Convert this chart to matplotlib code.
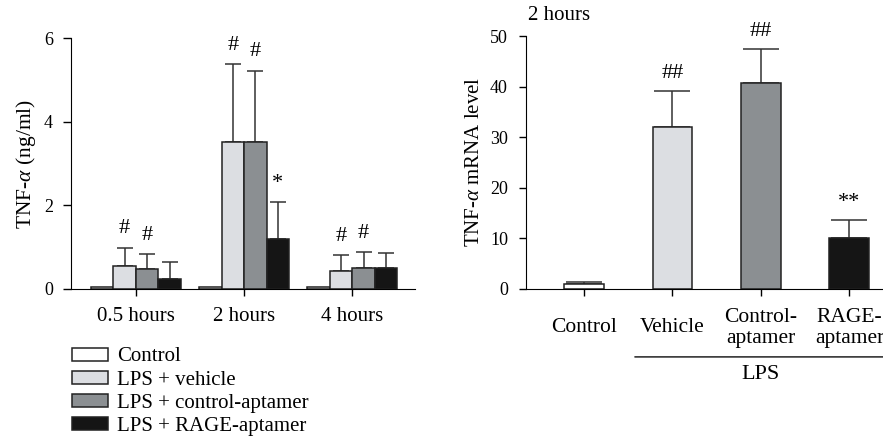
import numpy as np
import matplotlib.pyplot as plt
from matplotlib.patches import Patch

plt.rcParams['font.family'] = ['Liberation Serif', 'DejaVu Serif']
plt.rcParams['mathtext.fontset'] = 'custom'
plt.rcParams['mathtext.it'] = 'Liberation Serif:italic'
plt.rcParams['mathtext.rm'] = 'Liberation Serif'

# === DATA ===
timepoints = ["0.5 hours", "2 hours", "4 hours"]
groups = ["Control", "LPS + vehicle", "LPS + control-aptamer", "LPS + RAGE-aptamer"]
colors = ["#ffffff", "#dcdee2", "#8b8f92", "#151515"]

# TNF-alpha protein (ng/ml), rows = groups, cols = timepoints
tnf_mean = [
    [0.05, 0.05, 0.05],
    [0.56, 3.51, 0.43],
    [0.47, 3.52, 0.49],
    [0.23, 1.20, 0.49],
]
tnf_err = [
    [0.00, 0.00, 0.00],
    [0.43, 1.87, 0.38],
    [0.37, 1.70, 0.40],
    [0.42, 0.88, 0.36],
]
tnf_marks = [
    ["", "", ""],
    ["#", "#", "#"],
    ["#", "#", "#"],
    ["", "*", ""],
]

# TNF-alpha mRNA at 2 hours
mrna_labels = ["Control", "Vehicle", "Control-\naptamer", "RAGE-\naptamer"]
mrna_mean = [1.0, 31.9, 40.7, 10.0]
mrna_err = [0.3, 7.3, 6.7, 3.5]
mrna_marks = ["", "##", "##", "**"]

edge = "#222222"
ecol = "#333333"

fig = plt.figure(figsize=(8.83, 4.37), dpi=100)

# ---- left panel ----
ax1 = fig.add_axes([0.0804, 0.3387, 0.3896, 0.5743])
w = 0.208
x = np.arange(len(timepoints))
for i, g in enumerate(groups):
    xs = x + (i - 1.5) * w
    ax1.bar(xs, tnf_mean[i], width=w, color=colors[i], edgecolor=edge, linewidth=1.1, zorder=2)
    errs = np.array(tnf_err[i])
    show = errs > 0
    ax1.errorbar(xs[show], np.array(tnf_mean[i])[show],
                 yerr=[np.zeros(show.sum()), errs[show]],
                 fmt='none', ecolor=ecol, elinewidth=1.1, capsize=6, capthick=1.1, zorder=1)
    for j in range(len(timepoints)):
        if tnf_marks[i][j]:
            top = tnf_mean[i][j] + tnf_err[i][j]
            ax1.text(xs[j], top + 0.22, tnf_marks[i][j], ha='center', va='bottom', fontsize=16)

ax1.set_xlim(-0.60, 2.58)
ax1.set_ylim(0, 6)
ax1.set_yticks([0, 2, 4, 6])
ax1.set_xticks(x)
ax1.set_xticklabels(timepoints, fontsize=15)
ax1.set_ylabel(r"TNF-$\alpha$ (ng/ml)", fontsize=15.5)
ax1.spines['top'].set_visible(False)
ax1.spines['right'].set_visible(False)
ax1.tick_params(axis='y', labelsize=13, length=6, pad=7, width=1)
ax1.tick_params(axis='x', length=5, pad=8, width=1)

handles = [Patch(facecolor=c, edgecolor=edge, linewidth=1.1) for c in colors]
fig.legend(handles, groups, loc='upper left', bbox_to_anchor=(0.081, 0.205),
           frameon=False, fontsize=15, handlelength=1.75, handleheight=0.58,
           handletextpad=0.45, labelspacing=0.2, borderaxespad=0, borderpad=0)

# ---- right panel ----
ax2 = fig.add_axes([0.5957, 0.3394, 0.4043, 0.5782])
x2 = np.arange(len(mrna_labels))
ax2.bar(x2, mrna_mean, width=0.45, color=colors, edgecolor=edge, linewidth=1.1, zorder=2)
ax2.errorbar(x2, mrna_mean, yerr=[np.zeros(len(x2)), mrna_err], fmt='none',
             ecolor=ecol, elinewidth=1.1, capsize=13, capthick=1.1, zorder=1)
for xi, m, e, s in zip(x2, mrna_mean, mrna_err, mrna_marks):
    if s:
        ax2.text(xi, m + e + 1.6, s, ha='center', va='bottom', fontsize=16, clip_on=False)

ax2.set_xlim(-0.655, 3.38)
ax2.set_ylim(0, 50)
ax2.set_yticks([0, 10, 20, 30, 40, 50])
ax2.set_xticks(x2)
ax2.set_xticklabels(mrna_labels, fontsize=15.5, linespacing=1.15)
for lab in ax2.get_xticklabels():
    lab.set_va('center')
ax2.set_ylabel(r"TNF-$\alpha$ mRNA level", fontsize=15)
ax2.spines['top'].set_visible(False)
ax2.spines['right'].set_visible(False)
ax2.tick_params(axis='y', labelsize=13, length=5, pad=8, width=1)
ax2.tick_params(axis='x', length=5, pad=23, width=1)
ax2.text(0.005, 1.083, "2 hours", transform=ax2.transAxes, ha='left', va='center', fontsize=15)

# LPS bracket
ax2.annotate("", xy=(0.305, -0.27), xytext=(1.0, -0.27), xycoords='axes fraction',
             arrowprops=dict(arrowstyle='-', color='#222222', lw=1.1, shrinkA=0, shrinkB=0))
ax2.text(2.0, -0.341, "LPS", transform=ax2.get_xaxis_transform(), ha='center', va='center', fontsize=16)

fig.savefig("out.png", dpi=100)
